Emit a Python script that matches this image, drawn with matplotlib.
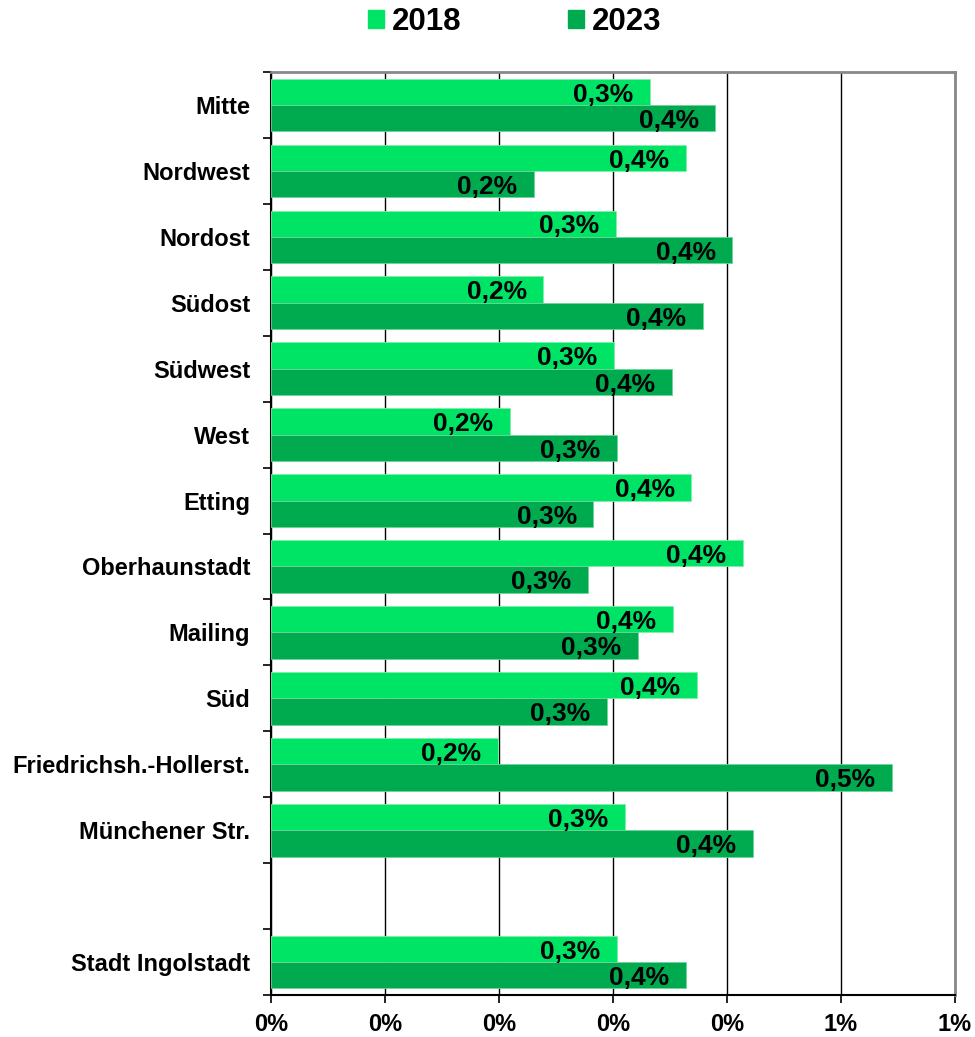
import numpy as np
import matplotlib
matplotlib.use("Agg")
import matplotlib.pyplot as plt
from matplotlib.patches import Patch

plt.rcParams['font.family'] = ['Liberation Sans', 'DejaVu Sans']
plt.rcParams['font.weight'] = 'bold'

districts = ['Mitte', 'Nordwest', 'Nordost', 'Südost', 'Südwest', 'West', 'Etting',
             'Oberhaunstadt', 'Mailing', 'Süd', 'Friedrichsh.-Hollerst.',
             'Münchener Str.', '', 'Stadt Ingolstadt']
v2018 = [0.333, 0.364, 0.303, 0.239, 0.301, 0.210, 0.369, 0.414, 0.353, 0.374,
         0.199, 0.311, np.nan, 0.304]
v2023 = [0.390, 0.231, 0.405, 0.379, 0.352, 0.304, 0.283, 0.278, 0.322, 0.295,
         0.545, 0.423, np.nan, 0.364]

c2018 = '#00E466'
c2023 = '#00AB50'

fig = plt.figure(figsize=(9.75, 10.37), dpi=100)
ax = fig.add_axes([0.278, 0.0405, 0.701, 0.890])

y = np.arange(len(districts))
h = 0.4
b1 = ax.barh(y - h / 2, v2018, height=h, color=c2018, edgecolor='#7ff0a8', linewidth=0.6, zorder=3)
b2 = ax.barh(y + h / 2, v2023, height=h, color=c2023, edgecolor='#6fd49a', linewidth=0.6, zorder=3)

for bars, vals in ((b1, v2018), (b2, v2023)):
    for bar, v in zip(bars, vals):
        if np.isnan(v):
            continue
        txt = f"{v:.1f}".replace('.', ',') + '%'
        ax.annotate(txt, (v, bar.get_y() + bar.get_height() / 2), xytext=(-12, -2),
                    textcoords='offset points', ha='right', va='center',
                    fontsize=19, fontweight='bold', zorder=4)

ticks = np.arange(0, 0.61, 0.1)
ax.set_xlim(0, 0.6)
ax.set_ylim(len(districts) - 0.5, -0.5)
ax.set_xticks(ticks)
ax.set_xticklabels([f"{int(np.floor(t + 0.5 + 1e-9))}%" for t in ticks],
                   fontsize=17, fontweight='bold')
ax.xaxis.grid(True, color='black', linewidth=1, zorder=0)
ax.set_yticks(y)
ax.set_yticklabels(districts, fontsize=17, fontweight='bold')
ax.set_yticks(np.arange(-0.5, len(districts)), minor=True)
ax.tick_params(axis='y', which='major', length=0, pad=15)
ax.tick_params(axis='y', which='minor', length=6, width=1.2, direction='out')
ax.tick_params(axis='x', length=6, width=1.2, direction='out', pad=7)

for s in ('top', 'right'):
    ax.spines[s].set_color('#888888')
    ax.spines[s].set_linewidth(2)
for s in ('left', 'bottom'):
    ax.spines[s].set_color('black')
    ax.spines[s].set_linewidth(1.5)

handles = [Patch(color=c2018, label='2018'), Patch(color=c2023, label='2023')]
fig.legend(handles=handles, loc='center', bbox_to_anchor=(0.528, 0.979), ncol=2,
           frameon=False, handlelength=0.5, handleheight=0.5,
           handletextpad=0.26, columnspacing=3.4,
           prop={'weight': 'bold', 'size': 22.5})

fig.savefig('out.png', dpi=100)
